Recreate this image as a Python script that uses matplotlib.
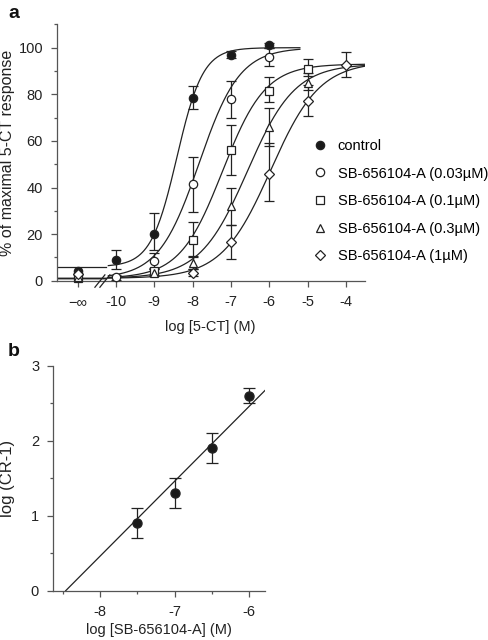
import numpy as np
import matplotlib
matplotlib.use('Agg')
import matplotlib.pyplot as plt
from matplotlib.lines import Line2D

plt.rcParams['font.family'] = ['Liberation Sans', 'DejaVu Sans']
plt.rcParams['font.size'] = 10.5
plt.rcParams['axes.unicode_minus'] = False

# ---- panel a data: log [5-CT] vs % of maximal response ----
log_ct = [-10, -9, -8, -7, -6, -5, -4]
ninf_x = -11  # position used for the "-inf" (no agonist) point

labels = ['control', 'SB-656104-A (0.03\u00b5M)', 'SB-656104-A (0.1\u00b5M)',
          'SB-656104-A (0.3\u00b5M)', 'SB-656104-A (1\u00b5M)']
markers = ['o', 'o', 's', '^', 'D']
fills = ['#1a1a1a', 'white', 'white', 'white', 'white']

# y values at log_ct (None = not measured)
resp = [
    [9, 20, 78.5, 97, 101, None, None],
    [1.5, 8.5, 41.5, 78, 96, None, None],
    [None, 4, 17.5, 56, 81.5, 91, None],
    [None, 3.5, 7.5, 32, 66, 85, None],
    [None, None, 3.5, 16.5, 46, 77, 92.5],
]
err_up = [
    [4, 9, 5, 1.5, 1, None, None],
    [1, 3.5, 11.5, 7.5, 4, None, None],
    [None, 1.5, 7.5, 11, 6, 4, None],
    [None, 1.5, 2.5, 8, 8, 4, None],
    [None, None, 1.5, 7.5, 13, 7, 5.5],
]
err_dn = [
    [4, 7, 5, 1.5, 1, None, None],
    [1, 3.5, 12, 8, 4, None, None],
    [None, 1.5, 7, 10.5, 5, 3, None],
    [None, 1.5, 2.5, 8, 8, 3, None],
    [None, None, 1.5, 7, 12, 6.5, 5],
]
ninf_resp = [4, 3, 1, 1.5, 3]

# fitted curve parameters: bottom, top, logEC50, hill slope, end of curve
fit_bottom = [6, 1, 1, 1, 1]
fit_top = [100, 100, 93, 93, 94]
fit_ec50 = [-8.41, -7.83, -7.22, -6.57, -5.96]
fit_hill = [1.28, 0.82, 0.78, 0.70, 0.68]
fit_end = [-5.2, -5.2, -3.5, -3.5, -3.5]

# ---- panel b data: Schild plot ----
log_sb = [-7.5, -7.0, -6.5, -6.0]
log_cr1 = [0.9, 1.3, 1.9, 2.6]
log_cr1_err = [0.2, 0.2, 0.2, 0.1]
schild_slope = 1.0
pA2 = 8.46

ink = '#222222'
spine_col = '#555555'

fig = plt.figure(figsize=(4.89, 6.4), dpi=100)

# ================= panel a =================
ax = fig.add_axes([57 / 489, 1 - 280.7 / 640, 308 / 489, 256.3 / 640])
ax.set_xlim(-11.54, -3.5)
ax.set_ylim(0, 110)

def hill(x, b, t, ec, h):
    return b + (t - b) / (1 + 10 ** ((ec - x) * h))

for i in range(5):
    # baseline to the left of the axis break
    ax.plot([-11.54, -10.25], [fit_bottom[i]] * 2, color=ink, lw=0.9, zorder=2)
    xs = np.linspace(-10.2, fit_end[i], 300)
    ax.plot(xs, hill(xs, fit_bottom[i], fit_top[i], fit_ec50[i], fit_hill[i]),
            color=ink, lw=0.9, zorder=2)

for i in range(5):
    xs, ys, lo, hi = [], [], [], []
    for j, v in enumerate(resp[i]):
        if v is None:
            continue
        xs.append(log_ct[j]); ys.append(v)
        lo.append(err_dn[i][j]); hi.append(err_up[i][j])
    ms = 5 if markers[i] == 'D' else 6
    ms = 5.5 if markers[i] in ('s', '^') else ms
    ax.errorbar(xs, ys, yerr=[lo, hi], fmt=markers[i], ms=ms, mfc=fills[i],
                mec=ink, mew=0.9, ecolor=ink, elinewidth=0.9, capsize=3.5,
                capthick=0.9, clip_on=False, zorder=3)
    ax.plot([ninf_x], [ninf_resp[i]], marker=markers[i], ms=ms, mfc=fills[i],
            mec=ink, mew=0.9, ls='none', clip_on=False, zorder=3)

# axis break marks
for x0 in (-10.55, -10.42):
    ax.plot([x0, x0 + 0.26], [-2.8, 2.5], color=ink, lw=0.9, clip_on=False, zorder=4)

ax.set_xticks([ninf_x] + log_ct)
ax.set_xticklabels(['\u2212\u221e'] + [str(v) for v in log_ct])
ax.get_xticklabels()[0].set_fontsize(8)
ax.set_yticks(range(0, 101, 20))
ax.set_yticks(range(10, 111, 20), minor=True)

ax.set_xlabel('log [5-CT] (M)')
ax.set_ylabel('% of maximal 5-CT response', fontsize=11.5)
ax.xaxis.set_label_coords(0.497, -0.155)
ax.yaxis.set_label_coords(-0.136, 0.5)

handles = [Line2D([], [], marker=markers[i], ls='none', mfc=fills[i], mec=ink,
                  mew=0.9, ms=5 if markers[i] == 'D' else 6) for i in range(5)]
ax.legend(handles, labels, loc='upper left', bbox_to_anchor=(0.835, 0.553),
          frameon=False, handlelength=0.8, handletextpad=0.8, labelspacing=0.93,
          borderaxespad=0, borderpad=0, fontsize=10.5)

# ================= panel b =================
bx = fig.add_axes([53 / 489, 1 - 590.7 / 640, 212 / 489, 225 / 640])
bx.set_xlim(-8.63, -5.79)
bx.set_ylim(0, 3)
lx = np.array([-pA2, -5.79])
bx.plot(lx, schild_slope * (lx + pA2), color=ink, lw=0.9, zorder=2)
bx.errorbar(log_sb, log_cr1, yerr=log_cr1_err, fmt='o', ms=6.5, mfc='#1a1a1a',
            mec=ink, ecolor=ink, elinewidth=0.9, capsize=4, capthick=0.9,
            clip_on=False, zorder=3)
bx.set_xticks([-8, -7, -6])
bx.set_xticks([-8.5, -7.5, -6.5], minor=True)
bx.set_yticks([0, 1, 2, 3])
bx.set_yticks([0.5, 1.5, 2.5], minor=True)
bx.set_xlabel('log [SB-656104-A] (M)')
bx.set_ylabel('log (CR-1)', fontsize=12)
bx.xaxis.set_label_coords(0.5, -0.145)
bx.yaxis.set_label_coords(-0.179, 0.5)

for a in (ax, bx):
    for s in ('top', 'right'):
        a.spines[s].set_visible(False)
    for s in ('left', 'bottom'):
        a.spines[s].set_color(spine_col)
        a.spines[s].set_linewidth(0.9)
    a.tick_params(which='major', direction='out', length=4, width=0.9,
                  color=spine_col, labelcolor=ink, labelsize=10.5, pad=6)
    a.tick_params(which='minor', direction='out', length=2.5, width=0.9,
                  color=spine_col)
    a.xaxis.label.set_color(ink)
    a.yaxis.label.set_color(ink)

fig.text(8 / 489, 1 - 14 / 640, 'a', fontsize=14, fontweight='bold',
         va='center', ha='left', color='#111111')
fig.text(8 / 489, 1 - 352 / 640, 'b', fontsize=14, fontweight='bold',
         va='center', ha='left', color='#111111')

fig.savefig('out.png', dpi=100)
